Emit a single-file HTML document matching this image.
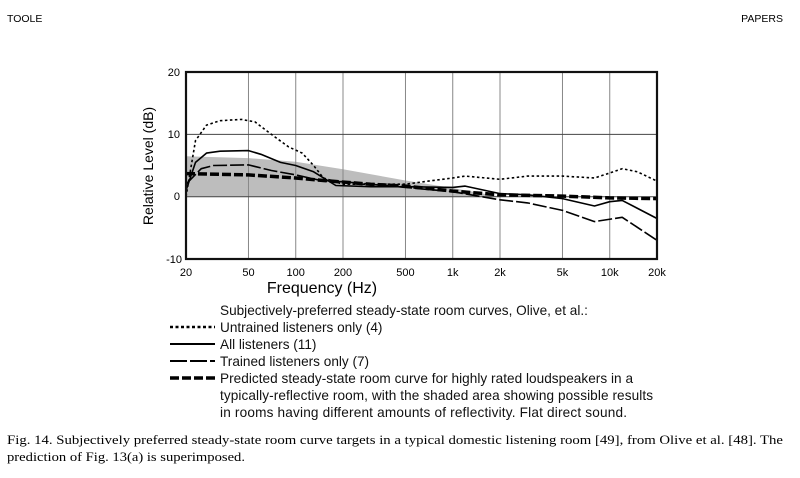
<!DOCTYPE html>
<html><head><meta charset="utf-8"><style>
body{margin:0;background:#fff;width:800px;height:478px;overflow:hidden}
svg{display:block}
</style></head><body>
<svg id="s" width="800" height="478" xmlns="http://www.w3.org/2000/svg" font-family="Liberation Sans, sans-serif">
<text x="7" y="22" font-size="10.5">TOOLE</text>
<text x="783" y="22" font-size="10.5" text-anchor="end">PAPERS</text>
<g id="plot"></g>
<g font-size="11" text-anchor="end">
<text x="180" y="76">20</text><text x="180" y="138">10</text><text x="180" y="200">0</text><text x="182" y="263">-10</text>
</g>
<g font-size="11" text-anchor="middle" id="xl"></g>
<text x="322" y="293" font-size="16" text-anchor="middle">Frequency (Hz)</text>
<text transform="translate(153,166) rotate(-90)" font-size="14" text-anchor="middle">Relative Level (dB)</text>
<g font-size="13.6" fill="#111">
<text x="220" y="315">Subjectively-preferred steady-state room curves, Olive, et al.:</text>
<text x="220" y="332">Untrained listeners only (4)</text>
<text x="220" y="349">All listeners (11)</text>
<text x="220" y="366">Trained listeners only (7)</text>
<text x="220" y="383" textLength="413">Predicted steady-state room curve for highly rated loudspeakers in a</text>
<text x="220" y="400" textLength="433">typically-reflective room, with the shaded area showing possible results</text>
<text x="220" y="417" textLength="407">in rooms having different amounts of reflectivity.  Flat direct sound.</text>
</g>
<g stroke="#000" fill="none">
<line x1="170" y1="327" x2="215" y2="327" stroke-width="2.5" stroke-dasharray="3,2.5"/>
<line x1="170" y1="344" x2="215" y2="344" stroke-width="2"/>
<line x1="170" y1="361" x2="215" y2="361" stroke-width="2" stroke-dasharray="17,3"/>
<line x1="170" y1="378" x2="215" y2="378" stroke-width="3.5" stroke-dasharray="9,3"/>
</g>
<g font-family="Liberation Serif, serif" font-size="13">
<text x="7" y="444" textLength="776" lengthAdjust="spacingAndGlyphs">Fig. 14.  Subjectively preferred steady-state room curve targets in a typical domestic listening room [49], from Olive et al. [48]. The</text>
<text x="7" y="461" textLength="238" lengthAdjust="spacingAndGlyphs">prediction of Fig. 13(a) is superimposed.</text>
</g>
</svg>
<script>
const X=f=>186+157*Math.log10(f/20), Y=d=>196.7-6.23*d;
const pts=a=>a.map(p=>X(p[0]).toFixed(1)+','+Y(p[1]).toFixed(1)).join(' ');
let h='';
h+=`<polygon fill="#bdbdbd" points="${pts([[20,0],[20,6.5],[50,6.2],[100,5.6],[200,4.4],[500,2.6],[1000,1.4],[2000,0],[20,0]])}"/>`;
[50,100,200,500,1000,2000,5000,10000].forEach(f=>h+=`<line x1="${X(f)}" x2="${X(f)}" y1="72" y2="259" stroke="#888" stroke-width="1"/>`);
[10,0].forEach(d=>h+=`<line x1="186" x2="657" y1="${Y(d)}" y2="${Y(d)}" stroke="#444" stroke-width="1"/>`);
const L=(a,w,da)=>h+=`<polyline fill="none" stroke="#000" stroke-width="${w}" ${da?'stroke-dasharray="'+da+'"':''} stroke-linejoin="round" points="${pts(a)}"/>`;
L([[20,3.7],[50,3.5],[100,3],[150,2.6],[300,2],[500,1.7],[1000,0.9],[2000,0.3],[5000,0.1],[10000,-0.2],[20000,-0.3]],3.5,'9,3');
L([[20,0],[23,9],[27,11.5],[33,12.2],[45,12.4],[55,12],[70,10],[90,8],[110,7],[130,5],[150,3],[200,2],[500,2],[700,2.5],[1000,3],[1200,3.3],[2000,2.8],[3000,3.3],[5000,3.3],[8000,3],[10000,3.8],[12000,4.5],[15000,4],[20000,2.5]],1.6,'2.5,2.5');
L([[20,1],[23,5.5],[27,7],[33,7.3],[50,7.4],[60,6.8],[80,5.5],[100,5],[130,4],[180,1.8],[300,1.6],[500,1.6],[1000,1.5],[1200,1.7],[2000,0.5],[3000,0.3],[5000,-0.3],[8000,-1.5],[10000,-0.8],[12000,-0.6],[20000,-3.5]],1.6);
L([[20,2],[25,4.5],[30,5],[50,5.1],[70,4.2],[100,3.5],[150,2.5],[200,2.4],[500,1.5],[1000,0.8],[2000,-0.5],[3000,-1],[5000,-2.2],[8000,-4],[12000,-3.3],[20000,-7]],1.6,'14,3');
h+=`<rect x="186" y="72" width="471" height="187" fill="none" stroke="#111" stroke-width="2.2"/>`;
document.getElementById('plot').innerHTML=h;
let t='';[[20,'20'],[50,'50'],[100,'100'],[200,'200'],[500,'500'],[1000,'1k'],[2000,'2k'],[5000,'5k'],[10000,'10k'],[20000,'20k']].forEach(p=>t+=`<text x="${X(p[0])}" y="276">${p[1]}</text>`);
document.getElementById('xl').innerHTML=t;
</script>
</body></html>
